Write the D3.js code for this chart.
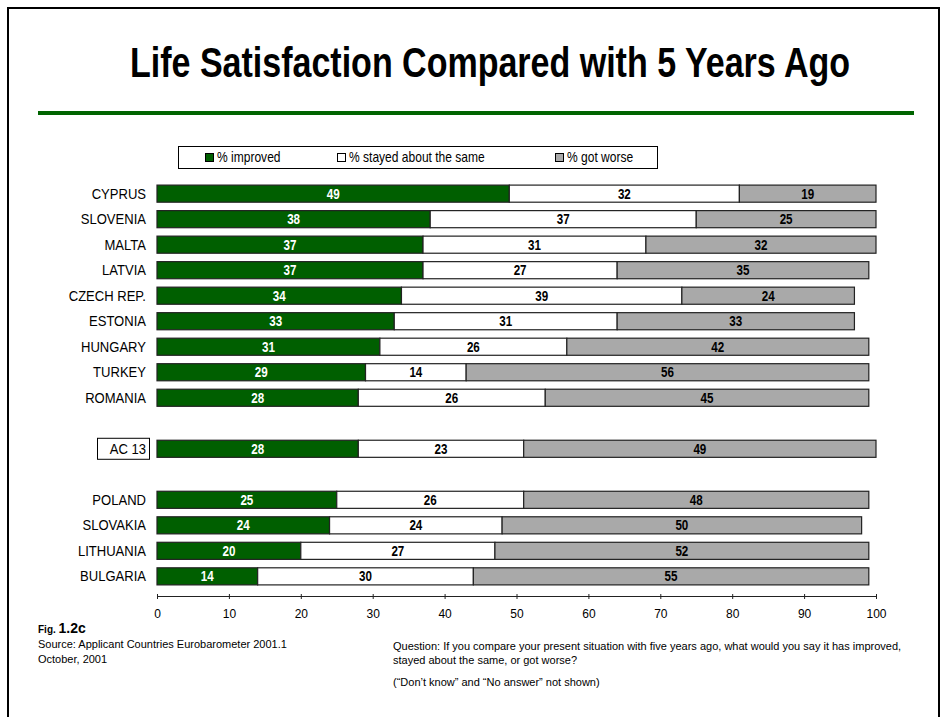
<!DOCTYPE html>
<html>
<head>
<meta charset="utf-8">
<script src="https://cdn.jsdelivr.net/npm/d3@7"></script>
<style>
  html, body { margin: 0; padding: 0; background: #fff; }
  svg { display: block; }
  text { font-family: 'Liberation Sans Narrow', 'Arial Narrow', 'Liberation Sans', Arial, sans-serif; }
</style>
</head>
<body>
<svg id="chart" width="947" height="717"></svg>
<script>
// Eurobarometer: life satisfaction compared with five years ago
const countries = ["CYPRUS", "SLOVENIA", "MALTA", "LATVIA", "CZECH REP.", "ESTONIA", "HUNGARY", "TURKEY", "ROMANIA", "", "AC 13", " ", "POLAND", "SLOVAKIA", "LITHUANIA", "BULGARIA"];
const improved = [49, 38, 37, 37, 34, 33, 31, 29, 28, null, 28, null, 25, 24, 20, 14];
const stayedSame = [32, 37, 31, 27, 39, 31, 26, 14, 26, null, 23, null, 26, 24, 27, 30];
const gotWorse = [19, 25, 32, 35, 24, 33, 42, 56, 45, null, 49, null, 48, 50, 52, 55];
const seriesNames = ["% improved", "% stayed about the same", "% got worse"];
const seriesColors = ["#005f00", "#ffffff", "#a9a9a9"];
const labelColors = ["#ffffff", "#000000", "#000000"];
const xTicks = [0, 10, 20, 30, 40, 50, 60, 70, 80, 90, 100];

const svg = d3.select("#chart");

// condensed text: anchor at (x, y) and squeeze horizontally
function narrowText(parent, x, y, str, size, opts = {}) {
  return parent.append("text")
    .attr("transform", `translate(${x},${y}) scale(${opts.sx || 0.85},1)`)
    .attr("text-anchor", opts.anchor || "start")
    .attr("font-size", size)
    .attr("font-weight", opts.weight || "normal")
    .attr("fill", opts.fill || "#000")
    .text(str);
}

// page frame
svg.append("path")
  .attr("d", "M8,717 V8 H939 V717")
  .attr("fill", "none").attr("stroke", "#000").attr("stroke-width", 2);

// title and rule
narrowText(svg, 490, 77, "Life Satisfaction Compared with 5 Years Ago", 42, { anchor: "middle", weight: "bold", sx: 0.81 });
svg.append("rect")
  .attr("x", 38).attr("y", 111).attr("width", 876).attr("height", 4)
  .attr("fill", "#006400");

// scales
const x = d3.scaleLinear().domain([0, 100]).range([157, 876]);
const y = d3.scaleBand().domain(countries).range([180, 590]).paddingInner(0.33).paddingOuter(0.2);

// legend
const lg = svg.append("g");
lg.append("rect").attr("x", 178.5).attr("y", 146.5).attr("width", 479).attr("height", 22)
  .attr("fill", "#fff").attr("stroke", "#000").attr("stroke-width", 1);
const legendX = [205, 337, 555];
seriesNames.forEach((name, i) => {
  lg.append("rect").attr("x", legendX[i] + 0.5).attr("y", 153.5).attr("width", 8).attr("height", 8)
    .attr("fill", seriesColors[i]).attr("stroke", "#000").attr("stroke-width", 1);
  narrowText(lg, legendX[i] + 12, 162, name, 14, { sx: 0.86 });
});

// stacked segments
const rows = countries.map((c, i) => ({ c, v: [improved[i], stayedSame[i], gotWorse[i]] }))
  .filter(d => d.v[0] != null);

const barG = svg.append("g");
rows.forEach(row => {
  let acc = 0;
  row.v.forEach((val, s) => {
    const x0 = x(acc), x1 = x(acc + val);
    barG.append("rect")
      .attr("x", x0).attr("y", y(row.c))
      .attr("width", x1 - x0).attr("height", y.bandwidth())
      .attr("fill", seriesColors[s]).attr("stroke", "#222").attr("stroke-width", 1.2);
    narrowText(barG, (x0 + x1) / 2, y(row.c) + y.bandwidth() / 2 + 5, val, 14,
      { anchor: "middle", weight: "bold", fill: labelColors[s], sx: 0.83 });
    acc += val;
  });
});

// category labels
rows.forEach(row => {
  const cy = y(row.c) + y.bandwidth() / 2;
  narrowText(svg, 146, cy + 5, row.c, 14.5, { anchor: "end", sx: 0.9 });
});
// AC 13 marker box
const acY = y("AC 13") + y.bandwidth() / 2;
svg.append("rect").attr("x", 97.5).attr("y", acY - 10.5).attr("width", 52).attr("height", 21)
  .attr("fill", "none").attr("stroke", "#000").attr("stroke-width", 1);

// x axis
const axis = svg.append("g").attr("transform", "translate(0,596)")
  .call(d3.axisBottom(x).tickValues(xTicks).tickSize(5).tickPadding(8));
axis.select(".domain").attr("stroke", "#222").attr("stroke-width", 1.2).attr("d", "M157,0.5H876");
axis.selectAll(".tick line").attr("stroke", "#222").attr("y1", -2).attr("y2", 3);
axis.selectAll(".tick text").attr("font-size", 12).attr("fill", "#000")
  .style("font-family", "'Liberation Sans Narrow', 'Arial Narrow', 'Liberation Sans', Arial, sans-serif");

// footnotes
const fig = svg.append("text").attr("x", 38).attr("y", 633).attr("fill", "#000").attr("font-weight", "bold");
fig.append("tspan").attr("font-size", 10).text("Fig. ");
fig.append("tspan").attr("font-size", 14).style("font-family", "'Liberation Sans', Arial, sans-serif").text("1.2c");
svg.append("text").attr("x", 38).attr("y", 648).attr("font-size", 11).attr("fill", "#000")
  .text("Source: Applicant Countries Eurobarometer 2001.1");
svg.append("text").attr("x", 38).attr("y", 663).attr("font-size", 11).attr("fill", "#000")
  .text("October, 2001");
svg.append("text").attr("x", 393).attr("y", 650).attr("font-size", 11).attr("fill", "#000")
  .text("Question:  If you compare your present situation with five years ago, what would you say it has improved,");
svg.append("text").attr("x", 393).attr("y", 664).attr("font-size", 11).attr("fill", "#000")
  .text("stayed about the same, or got worse?");
svg.append("text").attr("x", 393).attr("y", 686).attr("font-size", 11).attr("fill", "#000")
  .text("(\u201CDon\u2019t know\u201D and  \u201CNo answer\u201D not shown)");
</script>
</body>
</html>
